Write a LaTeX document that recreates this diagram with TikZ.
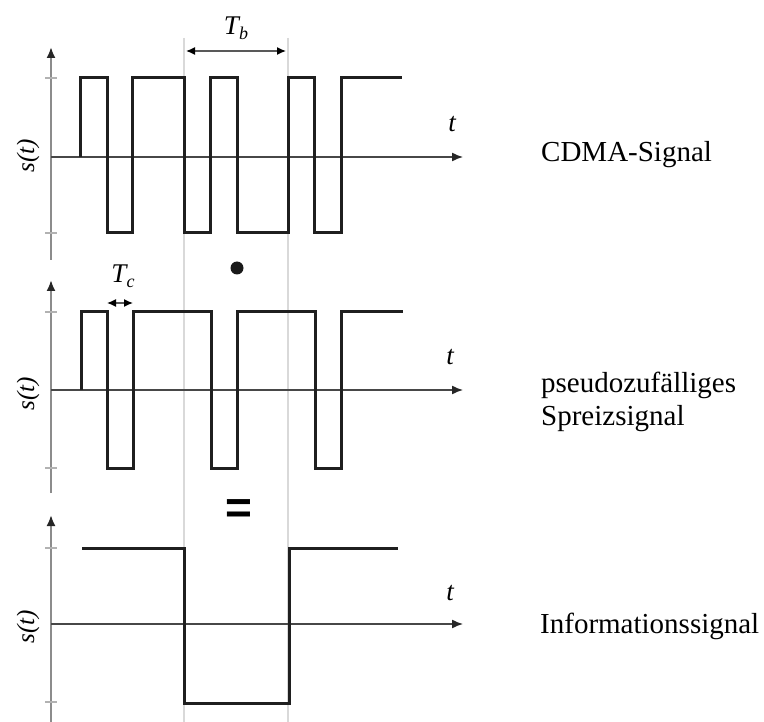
\documentclass[tikz,border=0pt]{standalone}
\usepackage{fontspec}
\setmainfont{Liberation Serif}
\newfontfamily\eqfont{Liberation Sans}
\usetikzlibrary{arrows.meta}
\begin{document}
\begin{tikzpicture}[x=1pt,y=-1pt,
  sig/.style={line width=3pt,draw=black!88,line join=miter},
  yax/.style={line width=2pt,draw=black!45,-{Latex[length=11pt,width=9pt,color=black!85]}},
  xax/.style={line width=1.4pt,draw=black!72,-{Latex[length=11pt,width=9pt,color=black!85]}},
  tickmark/.style={line width=1.5pt,draw=black!30},
  bitline/.style={line width=2.5pt,draw=black!15},
  dimline/.style={line width=1.4pt,draw=black!65,{Latex[length=9pt,width=8pt,color=black]}-{Latex[length=9pt,width=8pt,color=black]}},
  ylab/.style={rotate=90,font=\fontsize{25}{25}\selectfont\itshape},
  tlab/.style={font=\fontsize{27}{27}\selectfont\itshape},
  siglabel/.style={anchor=base west,inner sep=0pt,font=\fontsize{29}{33}\selectfont}]
\useasboundingbox (0,0) rectangle (764,722);

% bit boundaries
\coordinate (g1t) at (184,38); \coordinate (g1b) at (184,722);
\coordinate (g2t) at (288,38); \coordinate (g2b) at (288,722);
\draw[bitline] (g1t) -- (g1b);
\draw[bitline] (g2t) -- (g2b);

% ---------- panel 1: CDMA signal ----------
\coordinate (y1b) at (51,260); \coordinate (y1t) at (51,47);
\coordinate (z1a) at (51,157); \coordinate (z1b) at (463,157);
\draw[yax] (y1b) -- (y1t);
\draw[tickmark] (45,78) -- (57,78);
\draw[tickmark] (45,233) -- (57,233);
\draw[xax] (z1a) -- (z1b);
\draw[sig] (80,157) -- (80,78) -- (107,78) -- (107,233) -- (132,233) -- (132,78)
  -- (184,78) -- (184,233) -- (210,233) -- (210,78) -- (237,78) -- (237,233)
  -- (288,233) -- (288,78) -- (314,78) -- (314,233) -- (341,233) -- (341,78) -- (402,78);
\node[ylab] (s1) at (28,156) {s(t)};
\node[tlab] (t1) at (452,124) {t};
\node[siglabel] (l1) at (541,162) {CDMA-Signal};
\coordinate (tb1) at (186,51); \coordinate (tb2) at (286,51);
\draw[dimline] (tb1) -- (tb2);
\node[tlab,anchor=base] (Tb) at (236,35) {T\raisebox{-5pt}{\fontsize{18}{18}\selectfont b}};

% operator
\node[circle,fill=black!90,minimum size=13pt,inner sep=0pt] (dot) at (237,268) {};

% ---------- panel 2: spreading signal ----------
\coordinate (y2b) at (51,493); \coordinate (y2t) at (51,280);
\coordinate (z2a) at (51,390); \coordinate (z2b) at (463,390);
\draw[yax] (y2b) -- (y2t);
\draw[tickmark] (45,312) -- (57,312);
\draw[tickmark] (45,468) -- (57,468);
\draw[xax] (z2a) -- (z2b);
\draw[sig] (81,390) -- (81,312) -- (107,312) -- (107,468) -- (133,468) -- (133,312)
  -- (211,312) -- (211,468) -- (237,468) -- (237,312) -- (315,312) -- (315,468)
  -- (341,468) -- (341,312) -- (403,312);
\node[ylab] (s2) at (28,394) {s(t)};
\node[tlab] (t2) at (450,357) {t};
\node[siglabel] (l2a) at (541,392) {pseudozufälliges};
\node[siglabel] (l2b) at (541,425) {Spreizsignal};
\coordinate (tc1) at (107,303); \coordinate (tc2) at (133,303);
\draw[dimline] (tc1) -- (tc2);
\node[tlab,anchor=base] (Tc) at (123,283) {T\raisebox{-5pt}{\fontsize{18}{18}\selectfont c}};

% operator
\node[font=\eqfont\bfseries\fontsize{46}{46}\selectfont,anchor=base,inner sep=0pt] (eq) at (239,523) {=};

% ---------- panel 3: information signal ----------
\coordinate (y3b) at (51,722); \coordinate (y3t) at (51,515);
\coordinate (z3a) at (51,624); \coordinate (z3b) at (463,624);
\draw[yax] (y3b) -- (y3t);
\draw[tickmark] (45,548) -- (57,548);
\draw[tickmark] (45,702) -- (57,702);
\draw[xax] (z3a) -- (z3b);
\draw[sig] (82,548) -- (184,548) -- (184,703) -- (289,703) -- (289,548) -- (398,548);
\node[ylab] (s3) at (28,627) {s(t)};
\node[tlab] (t3) at (450,593) {t};
\node[siglabel] (l3) at (540,633) {Informationssignal};
\end{tikzpicture}
\end{document}
